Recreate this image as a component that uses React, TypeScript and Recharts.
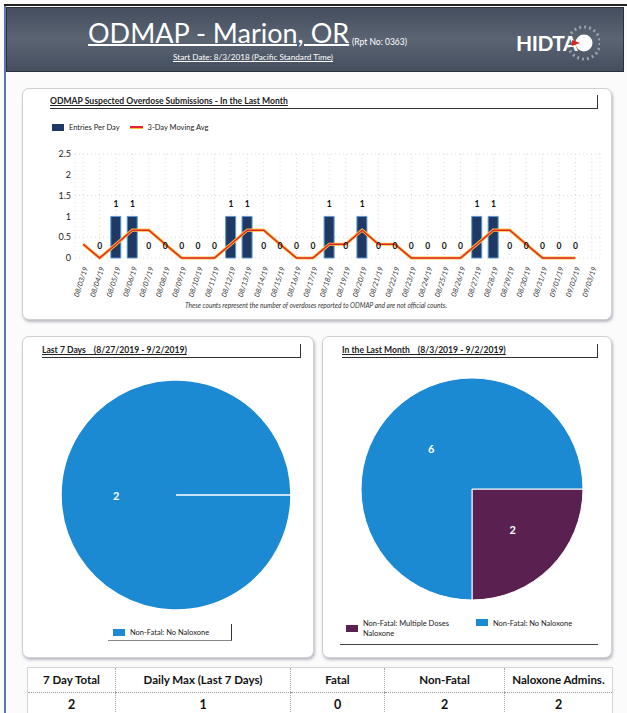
import React from 'react';
import {
  ComposedChart,
  Bar,
  Line,
  LabelList,
  XAxis,
  YAxis,
  CartesianGrid,
  PieChart,
  Pie,
  Cell,
} from 'recharts';

const dates = [
  '08/03/19', '08/04/19', '08/05/19', '08/06/19', '08/07/19', '08/08/19', '08/09/19', '08/10/19',
  '08/11/19', '08/12/19', '08/13/19', '08/14/19', '08/15/19', '08/16/19', '08/17/19', '08/18/19',
  '08/19/19', '08/20/19', '08/21/19', '08/22/19', '08/23/19', '08/24/19', '08/25/19', '08/26/19',
  '08/27/19', '08/28/19', '08/29/19', '08/30/19', '08/31/19', '09/01/19', '09/02/19', '09/03/19',
];
const entriesPerDay = [
  null, 0, 1, 1, 0, 0, 0, 0,
  0, 1, 1, 0, 0, 0, 0, 1,
  0, 1, 0, 0, 0, 0, 0, 0,
  1, 1, 0, 0, 0, 0, 0, null,
];
const movingAvg = [
  0.33, 0, 0.33, 0.67, 0.67, 0.33, 0, 0,
  0, 0.33, 0.67, 0.67, 0.33, 0, 0, 0.33,
  0.33, 0.67, 0.33, 0.33, 0, 0, 0, 0,
  0.33, 0.67, 0.67, 0.33, 0, 0, 0, null,
];
const yTicks = [0, 0.5, 1, 1.5, 2, 2.5];

const last7Labels = ['Non-Fatal: No Naloxone'];
const last7Values = [2];
const monthLabels = ['Non-Fatal: Multiple Doses Naloxone', 'Non-Fatal: No Naloxone'];
const monthValues = [2, 6];

const summaryHeaders = ['7 Day Total', 'Daily Max (Last 7 Days)', 'Fatal', 'Non-Fatal', 'Naloxone Admins.'];
const summaryValues = [2, 1, 0, 2, 2];

const NAVY = '#1f3864';
const BLUE = '#1b8ad3';
const PLUM = '#5a2150';
const FONT = 'Lato, "Noto Sans", sans-serif';

const barData = dates.map((d, i) => ({ date: d, entries: entriesPerDay[i], avg: movingAvg[i] }));
const last7Data = last7Labels.map((n, i) => ({ name: n, value: last7Values[i] }));
const monthData = monthLabels.map((n, i) => ({ name: n, value: monthValues[i] }));
const last7Colors = [BLUE];
const monthColors = [PLUM, BLUE];

const pieLabel = (props: any) => {
  const { cx, cy, midAngle, outerRadius, value } = props;
  const rad = Math.PI / 180;
  const r = outerRadius * 0.52;
  const x = cx + r * Math.cos(-midAngle * rad);
  const y = cy + r * Math.sin(-midAngle * rad);
  return (
    <text x={x} y={y} fill="#fff" fontSize={11} fontWeight={700} textAnchor="middle" dominantBaseline="central" fontFamily={FONT}>
      {value}
    </text>
  );
};

const abs = (left: number, top: number, width: number, height: number): React.CSSProperties => ({
  position: 'absolute', left, top, width, height,
});

const card: React.CSSProperties = {
  border: '1px solid #cfcfd4',
  borderRadius: 7,
  boxShadow: '1px 2px 3px #b9bac2',
  background: '#fff',
};

const CardTitle = ({ left, top, width, text }: { left: number; top: number; width: number; text: string }) => (
  <div
    style={{
      ...abs(left, top, width, 13),
      borderBottom: '1px solid #333',
      borderRight: '1.5px solid #333',
      fontSize: 8.6,
      fontWeight: 700,
      color: '#222',
      lineHeight: '12px',
      whiteSpace: 'pre',
      textDecoration: 'underline',
    }}
  >
    {text}
  </div>
);

const Swatch = ({ color }: { color: string }) => (
  <span style={{ display: 'inline-block', width: 12, height: 7, background: color, marginRight: 5, verticalAlign: 'middle' }} />
);

export default function App() {
  return (
    <div style={{ ...abs(0, 0, 627, 713), overflow: 'hidden', background: '#fbfbfc', fontFamily: FONT }}>
      {/* page frame */}
      <div style={{ ...abs(4, 4, 2, 713), background: '#5a77b0' }} />
      <div style={{ ...abs(4, 4, 623, 1.5), background: '#222' }} />

      {/* header band */}
      <div
        style={{
          ...abs(6, 7, 616, 63),
          background: 'linear-gradient(180deg, #454e5e 0%, #5a6473 50%, #454e5e 100%)',
          border: '1px solid #2c323c',
        }}
      />
      <div style={{ ...abs(88, 16, 260, 34), color: '#fff', fontSize: 27, lineHeight: '34px', textDecoration: 'underline', textDecorationThickness: 2, whiteSpace: 'nowrap' }}>
        ODMAP - Marion, OR
      </div>
      <div style={{ ...abs(352, 37, 80, 12), color: '#fff', fontSize: 8.5, whiteSpace: 'nowrap' }}>(Rpt No: 0363)</div>
      <div style={{ ...abs(150, 52, 206, 12), color: '#fff', fontSize: 8.2, textAlign: 'center', textDecoration: 'underline', whiteSpace: 'nowrap' }}>
        Start Date: 8/3/2018 (Pacific Standard Time)
      </div>
      {/* logo */}
      <svg style={abs(510, 18, 90, 48)} width={90} height={48}>
        <circle cx={74} cy={25} r={16} fill="none" stroke="#9aa1ab" strokeWidth={3} strokeDasharray="2 3" />
        <circle cx={74} cy={25} r={8.5} fill="#fff" />
        <text x={6} y={33} fill="#fff" fontSize={21} fontWeight={700} fontFamily={FONT} letterSpacing={-0.5}>HIDTA</text>
        <polygon points="62,22 70,25 62,28" fill="#e02020" />
      </svg>

      {/* bar chart card */}
      <div style={{ ...abs(22, 88, 588, 230), ...card }} />
      <CardTitle left={50} top={95} width={547} text="ODMAP Suspected Overdose Submissions - In the Last Month" />
      <div style={{ ...abs(52, 121, 200, 12), fontSize: 7.5, color: '#222', display: 'flex', alignItems: 'center', whiteSpace: 'nowrap' }}>
        <Swatch color={NAVY} />
        <span>Entries Per Day</span>
        <span style={{ display: 'inline-block', width: 13, height: 2, background: '#e3262d', boxShadow: '0 1px 0 #f7c030', margin: '0 5px 0 10px' }} />
        <span>3-Day Moving Avg</span>
      </div>
      <div style={abs(22, 140, 588, 175)}>
        <ComposedChart width={588} height={175} data={barData} margin={{ top: 14, right: 10, left: 13, bottom: 17 }}>
          <CartesianGrid stroke="#dcdcdc" strokeDasharray="1 3" />
          <XAxis
            dataKey="date"
            interval={0}
            height={40}
            angle={-72}
            textAnchor="end"
            axisLine={false}
            tickLine={false}
            tickMargin={2}
            tick={{ fontSize: 7.3, fontStyle: 'italic', fill: '#333', fontFamily: FONT }}
          />
          <YAxis
            width={40}
            domain={[0, 2.5]}
            ticks={yTicks}
            axisLine={false}
            tickLine={false}
            tickSize={2}
            tick={{ fontSize: 9, fill: '#222', fontFamily: FONT }}
          />
          <Bar dataKey="entries" fill={NAVY} stroke="#5b9bd5" strokeWidth={1} barSize={10} isAnimationActive={false} />
          <Line dataKey="avg" type="linear" stroke="#f6c23a" strokeWidth={3.2} dot={false} isAnimationActive={false} legendType="none" />
          <Line dataKey="avg" type="linear" stroke="#e3262d" strokeWidth={1.5} dot={false} isAnimationActive={false} />
          <Line dataKey="entries" stroke="none" dot={false} activeDot={false} isAnimationActive={false} legendType="none">
            <LabelList dataKey="entries" position="top" offset={9} style={{ fontSize: 8.5, fontWeight: 700, fill: '#111', fontFamily: FONT }} />
          </Line>
        </ComposedChart>
      </div>
      <div style={{ ...abs(22, 301, 588, 10), fontSize: 6.6, fontStyle: 'italic', color: '#333', textAlign: 'center', whiteSpace: 'nowrap' }}>
        These counts represent the number of overdoses reported to ODMAP and are not official counts.
      </div>

      {/* last 7 days pie */}
      <div style={{ ...abs(22, 336, 290, 320), ...card }} />
      <CardTitle left={42} top={344} width={258} text="Last 7 Days__(8/27/2019 - 9/2/2019)" />
      <div style={abs(22, 360, 290, 260)}>
        <PieChart width={290} height={260}>
          <Pie
            data={last7Data}
            dataKey="value"
            nameKey="name"
            cx={149}
            cy={130}
            outerRadius={115}
            stroke="#fff"
            strokeWidth={1.5}
            label={pieLabel}
            labelLine={false}
            isAnimationActive={false}
          >
            {last7Data.map((d, i) => (
              <Cell key={d.name} fill={last7Colors[i]} />
            ))}
          </Pie>
        </PieChart>
      </div>
      <div
        style={{
          ...abs(108, 624, 124, 17),
          borderBottom: '1px solid #888',
          borderRight: '1.5px solid #333',
          fontSize: 7.5,
          color: '#222',
          display: 'flex',
          alignItems: 'center',
          paddingLeft: 5,
          boxSizing: 'border-box',
          whiteSpace: 'nowrap',
        }}
      >
        <Swatch color={last7Colors[0]} />
        {last7Labels[0]}
      </div>

      {/* last month pie */}
      <div style={{ ...abs(322, 336, 288, 320), ...card }} />
      <CardTitle left={342} top={344} width={255} text="In the Last Month__(8/3/2019 - 9/2/2019)" />
      <div style={abs(322, 360, 288, 250)}>
        <PieChart width={288} height={250}>
          <Pie
            data={monthData}
            dataKey="value"
            nameKey="name"
            cx={145}
            cy={124}
            outerRadius={111}
            startAngle={-90}
            endAngle={270}
            stroke="#fff"
            strokeWidth={1}
            label={pieLabel}
            labelLine={false}
            isAnimationActive={false}
          >
            {monthData.map((d, i) => (
              <Cell key={d.name} fill={monthColors[i]} />
            ))}
          </Pie>
        </PieChart>
      </div>
      <div
        style={{
          ...abs(340, 613, 258, 32),
          borderBottom: '1.5px solid #444',
          fontSize: 7.5,
          color: '#222',
          display: 'flex',
          alignItems: 'center',
          boxSizing: 'border-box',
        }}
      >
        <div style={{ display: 'flex', alignItems: 'center', width: 130, paddingLeft: 6 }}>
          <Swatch color={monthColors[0]} />
          <span style={{ width: 100, lineHeight: '10px' }}>{monthLabels[0]}</span>
        </div>
        <div style={{ display: 'flex', alignItems: 'flex-start', whiteSpace: 'nowrap', marginTop: -10 }}>
          <Swatch color={monthColors[1]} />
          {monthLabels[1]}
        </div>
      </div>

      {/* summary table */}
      <table
        style={{
          ...abs(27, 667, 585, 50),
          borderCollapse: 'collapse',
          fontFamily: FONT,
          fontWeight: 700,
          color: '#111',
          background: '#fff',
          border: '1px solid #d6d6d6',
          tableLayout: 'fixed',
        }}
      >
        <colgroup>
          <col style={{ width: 88 }} />
          <col style={{ width: 175 }} />
          <col style={{ width: 94 }} />
          <col style={{ width: 120 }} />
          <col style={{ width: 108 }} />
        </colgroup>
        <tbody>
          <tr style={{ height: 24 }}>
            {summaryHeaders.map((h) => (
              <td key={h} style={{ fontSize: 11.5, textAlign: 'center', borderLeft: '1px dotted #aaa', borderBottom: '1px dotted #999', padding: 0, whiteSpace: 'nowrap' }}>
                {h}
              </td>
            ))}
          </tr>
          <tr style={{ height: 24 }}>
            {summaryValues.map((v, i) => (
              <td key={i} style={{ fontSize: 12.5, textAlign: 'center', borderLeft: '1px dotted #aaa', padding: 0 }}>
                {v}
              </td>
            ))}
          </tr>
        </tbody>
      </table>
    </div>
  );
}
